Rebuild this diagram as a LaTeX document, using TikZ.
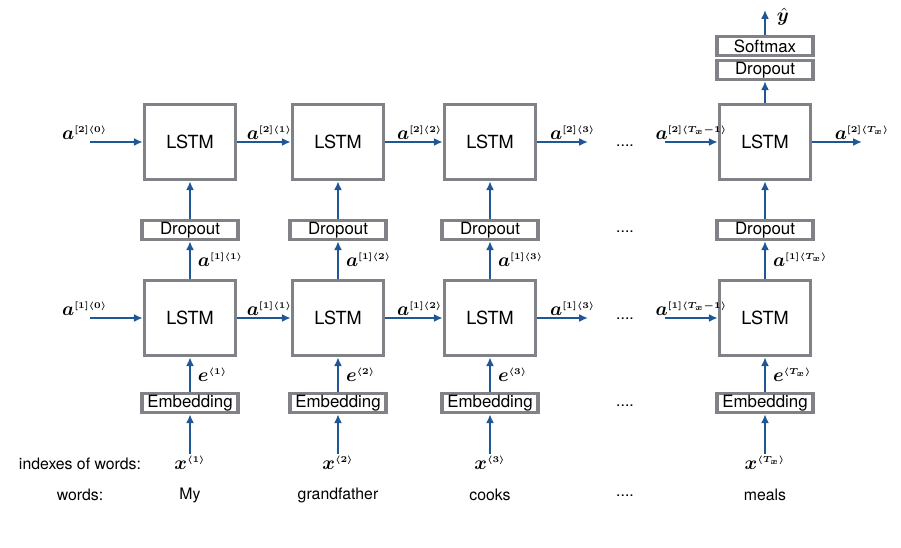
\documentclass[tikz,border=0pt]{standalone}
\usepackage{amsmath,amssymb,bm}
\usepackage{fontspec}
\setmainfont{TeX Gyre Heros}
\usetikzlibrary{arrows.meta}
\definecolor{boxgray}{RGB}{128,130,136}
\definecolor{arrblue}{RGB}{31,86,148}
\newcommand{\hstate}[2]{$\boldsymbol{a}^{\scriptscriptstyle\boldsymbol{[#1]\langle #2\rangle}}$}
\newcommand{\stepvec}[2]{$\boldsymbol{#1}^{\scriptscriptstyle\boldsymbol{\langle #2\rangle}}$}

\begin{document}
\begin{tikzpicture}[x=0.02cm,y=-0.02cm,
    cell/.style={draw=boxgray,line width=2pt,minimum width=1.82cm,minimum height=1.50cm,font=\fontsize{10.3}{12}\selectfont},
    slab/.style={draw=boxgray,line width=2pt,minimum width=1.92cm,minimum height=0.38cm,inner sep=0pt,font=\fontsize{9.6}{11}\selectfont},
    flow/.style={draw=arrblue,line width=1.1pt,-{Latex[length=5pt,width=4.5pt]}},
    tag/.style={font=\fontsize{9}{11}\selectfont},
    lbl/.style={inner sep=1pt,font=\fontsize{11}{13}\selectfont}]
    \useasboundingbox (0,0) rectangle (901,547);
    %columns
    \foreach \i/\x/\w/\t in {1/190/My/1,2/338/grandfather/2,3/490/cooks/3,4/765/meals/T_x} {
        \node[cell] (top\i) at (\x,142) {LSTM};
        \node[slab] (drop\i) at (\x,230) {Dropout};
        \node[cell] (bot\i) at (\x,318) {LSTM};
        \node[slab] (emb\i) at (\x,403) {Embedding};
        \node[lbl] (x\i) at (\x,463) {\stepvec{x}{\t}};
        \node[tag] (word\i) at (\x,495) {\w};
        \draw[flow] (x\i) -- (emb\i);
        \draw[flow] (emb\i) -- node[lbl,right,xshift=3pt] {\stepvec{e}{\t}} (bot\i);
        \draw[flow] (bot\i) -- node[lbl,right,xshift=3pt] {\hstate{1}{\t}} (drop\i);
        \draw[flow] (drop\i) -- (top\i);
    }
    %recurrence
    \foreach \i/\j in {1/2,2/3} {
        \draw[flow] (top\i) -- node[lbl,above,pos=0.6] {\hstate{2}{\i}} (top\j);
        \draw[flow] (bot\i) -- node[lbl,above,pos=0.6] {\hstate{1}{\i}} (bot\j);
    }
    \coordinate (in2) at (90,142);
    \coordinate (in1) at (90,318);
    \draw[flow] (in2) -- node[lbl,above,pos=0,xshift=-3] {\hstate{2}{0}} (top1);
    \draw[flow] (in1) -- node[lbl,above,pos=0,xshift=-3] {\hstate{1}{0}} (bot1);
    \coordinate (gap2) at (588,142);
    \coordinate (gap1) at (588,318);
    \draw[flow] (top3) -- node[lbl,above,pos=0.7] {\hstate{2}{3}} (gap2);
    \draw[flow] (bot3) -- node[lbl,above,pos=0.7] {\hstate{1}{3}} (gap1);
    \coordinate (back2) at (665,142);
    \coordinate (back1) at (665,318);
    \draw[flow] (back2) -- node[lbl,above] {\hstate{2}{T_x-1}} (top4);
    \draw[flow] (back1) -- node[lbl,above] {\hstate{1}{T_x-1}} (bot4);
    \coordinate (end2) at (862,142);
    \draw[flow] (top4) -- node[lbl,above,pos=1] {\hstate{2}{T_x}} (end2);
    %output
    \node[slab] (odrop) at (765,70) {Dropout};
    \node[slab] (soft) at (765,46) {Softmax};
    \coordinate (out) at (765,10);
    \draw[flow] (top4) -- (odrop);
    \draw[flow] (soft) -- (out);
    \node[lbl] (yhat) at (783,17) {$\hat{\boldsymbol{y}}$};
    %dots
    \foreach \n/\y in {a/146,b/232,c/319,d/406,e/496}
        \node[tag] (dots\n) at (625,\y) {....};
    \node[tag] (idx) at (80,464) {indexes of words:};
    \node[tag] (wds) at (80,495) {words:};
\end{tikzpicture}
\end{document}
